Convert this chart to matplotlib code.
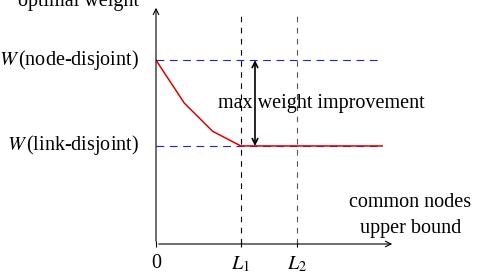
import matplotlib
matplotlib.use("Agg")
import matplotlib.pyplot as plt

plt.rcParams['font.family'] = ['Liberation Serif', 'DejaVu Serif']
plt.rcParams['mathtext.fontset'] = 'stix'

# data
common_nodes = [0, 1, 2, 3, 8]
opt_weight = [7.5, 5.75, 4.6, 4, 4]
w_node = 7.5
w_link = 4
L1 = 3
L2 = 5
tick_pos = [0, L1, L2]
tick_lab = ['0', '$L_1$', '$L_2$']

fs = 14.5

fig = plt.figure(figsize=(4.84, 2.78), dpi=100)
ax = fig.add_axes([156/484, 34/278, 239/484, 239/278])
ax.set_xlim(0, 8.45)
ax.set_ylim(0, 9.75)
for s in ax.spines.values():
    s.set_visible(False)

# axes arrows
ax.annotate('', xy=(8.45, 0), xytext=(0, 0),
            arrowprops=dict(arrowstyle='->', lw=0.8, color='black'), annotation_clip=False)
ax.annotate('', xy=(0, 9.75), xytext=(0, 0),
            arrowprops=dict(arrowstyle='->', lw=0.8, color='black'), annotation_clip=False)

ax.set_xticks(tick_pos)
ax.set_xticklabels(tick_lab, fontsize=fs)
ax.tick_params(axis='x', direction='inout', length=5, width=0.8, pad=5)
ax.set_yticks([])

# reference lines
ax.plot([0, 8], [w_node, w_node], color='#2020e0', lw=0.8, ls=(0, (7, 5)))
ax.plot([0, 8], [w_link, w_link], color='#2020e0', lw=0.8, ls=(0, (7, 5)))
ax.plot([L1, L1], [0, 9.35], color='black', lw=0.8, ls=(0, (5, 5)))
ax.plot([L2, L2], [0, 9.35], color='#555555', lw=0.8, ls=(0, (5, 5)))

ax.plot(common_nodes, opt_weight, color='#e00000', lw=1.1)

ax.annotate('', xy=(3.5, w_node), xytext=(3.5, w_link),
            arrowprops=dict(arrowstyle='<->', lw=1.2, color='black', shrinkA=0, shrinkB=0))
ax.text(5.83, 5.75, 'max weight improvement', fontsize=fs, ha='center', va='center')

ax.text(-0.6, w_node, r'$W\,$(node-disjoint)', fontsize=fs, ha='right', va='center')
ax.text(-0.6, w_link + 0.05, r'$W\,$(link-disjoint)', fontsize=fs, ha='right', va='center')
ax.text(-0.6, 9.9, 'optimal weight', fontsize=fs, ha='right', va='center', clip_on=False)
ax.text(9.0, 1.15, 'common nodes\nupper bound', fontsize=fs, ha='center', va='center',
        linespacing=1.5)

fig.savefig('out.png', dpi=100)
